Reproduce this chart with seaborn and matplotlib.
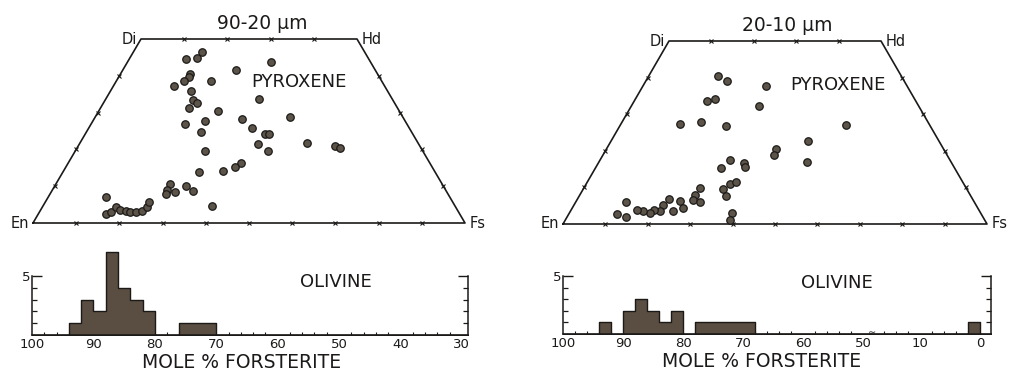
import numpy as np
import pandas as pd
import matplotlib
matplotlib.use("Agg")
import matplotlib.pyplot as plt
import seaborn as sns

# ---------------- data ----------------
# Pyroxene compositions (mole %): Wo (wollastonite) and Fs (ferrosilite)
px1_wo = [46.4, 44.8, 44.5, 43.8, 41.5, 40.5, 39.8, 38.5, 38.5, 37.1, 36.0, 33.7,
          33.5, 32.7, 31.2, 30.3, 28.8, 28.3, 27.8, 26.9, 25.7, 24.1, 24.1, 24.6,
          21.7, 20.9, 20.3, 21.6, 19.7, 19.7, 16.3, 15.3, 14.2, 13.9, 10.5, 8.9,
          8.0, 10.1, 8.3, 8.6, 4.6, 7.1, 2.5, 2.9, 4.4, 3.5, 3.3, 3.1, 2.9, 3.3,
          4.4, 5.7]
px1_fs = [16.0, 15.6, 13.1, 33.3, 26.3, 16.0, 16.3, 15.7, 22.0, 14.0, 18.5, 35.5,
          20.3, 21.6, 20.5, 27.7, 45.1, 34.2, 26.0, 21.8, 37.8, 41.6, 42.6, 26.5,
          52.6, 59.4, 60.9, 41.2, 30.0, 44.6, 39.9, 39.2, 36.8, 31.5, 26.4, 26.5,
          26.7, 30.3, 28.8, 32.8, 39.2, 13.3, 15.7, 16.7, 17.1, 18.5, 19.8, 21.0,
          22.5, 23.5, 24.1, 24.0]

px2_wo = [40.4, 39.2, 37.7, 33.5, 34.1, 32.3, 27.4, 27.8, 26.9, 27.0, 22.6, 20.5,
          18.8, 16.9, 17.5, 15.4, 16.8, 15.6, 9.5, 10.9, 11.4, 7.6, 9.9, 7.9, 6.5,
          6.1, 6.3, 4.3, 3.6, 6.9, 5.2, 3.6, 3.8, 2.9, 3.5, 3.8, 6.1, 2.7, 1.8,
          2.9, 1.1]
px2_fs = [16.4, 19.1, 29.1, 17.1, 18.7, 30.1, 13.9, 18.7, 25.0, 53.3, 46.5, 40.0,
          40.3, 49.2, 30.6, 29.5, 34.4, 35.1, 33.0, 33.9, 35.2, 34.7, 27.4, 27.1,
          27.3, 29.3, 24.5, 26.2, 24.1, 21.6, 21.1, 21.0, 19.6, 19.0, 17.1, 15.6,
          11.9, 11.4, 13.9, 38.5, 38.9]

# Olivine histograms: lower edge of 2 % bins and counts
ol1_lo = [92, 90, 88, 86, 84, 82, 80, 74, 72, 70]
ol1_n = [1, 3, 2, 7, 4, 3, 2, 1, 1, 1]
ol2_lo = [92, 88, 86, 84, 82, 80, 76, 74, 72, 70, 68, 0]
ol2_n = [1, 2, 3, 2, 1, 2, 1, 1, 1, 1, 1, 1]

titles = ["90-20 μm", "20-10 μm"]
ol1_ticks = [100, 90, 80, 70, 60, 50, 40, 30]
ol2_ticks = [100, 90, 80, 70, 60, 50, 10, 0]

# ---------------- style ----------------
sns.set_style("white")
plt.rcParams["font.family"] = ["DejaVu Sans"]
INK = "#1c1a18"
FILL = "#5c5349"
BAR = "#5a4e42"

fig = plt.figure(figsize=(10.10, 3.77), dpi=100)
H = np.sqrt(3) / 2


def ternary(ax, wo, fs, title, pyx, pyy):
    df = pd.DataFrame({"Wo": wo, "Fs": fs})
    df["x"] = df["Fs"] + df["Wo"] / 2
    df["y"] = df["Wo"] * H
    # outline
    ax.plot([0, 100, 75, 25, 0], [0, 0, 50 * H, 50 * H, 0], color=INK, lw=1.2,
            clip_on=False, zorder=1)
    # tick marks (10 % intervals)
    tx = list(range(10, 100, 10)) + [35, 45, 55, 65] + \
        [w / 2 for w in (10, 20, 30, 40)] + [100 - w / 2 for w in (10, 20, 30, 40)]
    ty = [0] * 9 + [50 * H] * 4 + [w * H for w in (10, 20, 30, 40)] * 2
    ax.plot(tx, ty, ls="none", marker="x", ms=3.5, mew=0.8, color=INK,
            clip_on=False)
    sns.scatterplot(data=df, x="x", y="y", ax=ax, s=29, color=FILL,
                    edgecolor=INK, linewidth=0.9, zorder=3, clip_on=False)
    ax.set_xlim(0, 100)
    ax.set_ylim(0, 50 * H)
    ax.axis("off")
    fs_lab = 10.5
    ax.text(-1, 0, "En", ha="right", va="center", fontsize=fs_lab, color=INK)
    ax.text(101, 0, "Fs", ha="left", va="center", fontsize=fs_lab, color=INK)
    ax.text(24, 50 * H, "Di", ha="right", va="center", fontsize=fs_lab, color=INK)
    ax.text(76, 50 * H, "Hd", ha="left", va="center", fontsize=fs_lab, color=INK)
    ax.text(pyx, pyy, "PYROXENE", ha="center", va="center", fontsize=13, color=INK)
    ax.set_title(title, fontsize=13.5, color=INK, pad=7, x=0.53)


ax1 = fig.add_axes([33 / 1010, (377 - 223) / 377, 432 / 1010, 184 / 377])
ternary(ax1, px1_wo, px1_fs, titles[0], 61.6, 33.2)
ax2 = fig.add_axes([563 / 1010, (377 - 224) / 377, 424 / 1010, 183 / 377])
ternary(ax2, px2_wo, px2_fs, titles[1], 64.9, 32.9)


# broken axis for right histogram (50 ... 18 compressed into a short gap)
def fwd(fo):
    fo = np.asarray(fo, dtype=float)
    u = np.where(fo >= 50, (100 - fo) / 10,
                 np.where(fo >= 18, 5.0 + (50 - fo) / 32 * 0.15,
                          5.15 + (18 - fo) / 10))
    return -u


def inv(v):
    u = -np.asarray(v, dtype=float)
    return np.where(u <= 5.0, 100 - 10 * u,
                    np.where(u <= 5.15, 50 - (u - 5.0) / 0.15 * 32,
                             18 - (u - 5.15) * 10))


def hist(ax, lo, n, ticks, minors, xlim, label_x, lab_center, broken=False):
    df = pd.DataFrame({"Fo": np.asarray(lo) + 1.0, "n": n})
    sns.histplot(data=df, x="Fo", weights="n", binwidth=2, binrange=(-2, 102),
                 element="step", fill=True, color=BAR, alpha=1,
                 edgecolor=INK, linewidth=1.0, ax=ax)
    if broken:
        ax.set_xscale("function", functions=(fwd, inv))
    ax.set_xlim(*xlim)
    ax.set_ylim(0, 7.1)
    for s in ("left", "right"):
        ax.spines[s].set_bounds(0, 5)
        ax.spines[s].set_color(INK)
        ax.spines[s].set_linewidth(1.1)
    ax.spines["top"].set_visible(False)
    ax.spines["bottom"].set_color(INK)
    ax.spines["bottom"].set_linewidth(1.1)
    ax.set_xticks(ticks)
    ax.set_xticklabels([str(t) for t in ticks])
    ax.set_xticks(minors, minor=True)
    ax.set_yticks([5])
    ax.set_yticklabels(["5"])
    ax.set_yticks([1, 2, 3, 4], minor=True)
    ax.tick_params(axis="x", which="major", direction="in", length=4, width=0.9,
                   color=INK, labelsize=9.5, labelcolor=INK, pad=2, top=False)
    ax.tick_params(axis="x", which="minor", direction="in", length=2, width=0.8,
                   color=INK, bottom=True, top=False)
    ax.tick_params(axis="y", which="major", direction="in", length=7, width=1.0,
                   color=INK, left=True, right=True, labelsize=9.5,
                   labelcolor=INK, pad=1)
    ax.tick_params(axis="y", which="minor", direction="in", length=3.5,
                   width=0.9, color=INK, left=True, right=True)
    ax.set_xlabel("")
    ax.set_ylabel("")
    ax.grid(False)
    ax.text(label_x[0], label_x[1], "OLIVINE", ha="center", va="center",
            fontsize=13, color=INK)
    ax.text(lab_center, -0.22, "MOLE % FORSTERITE", ha="center", va="top",
            fontsize=13.5, color=INK, transform=ax.transAxes)


ax3 = fig.add_axes([32 / 1010, (377 - 335) / 377, 436 / 1010, 84 / 377])
minors1 = [m for m in range(30, 100, 2) if m % 10]
hist(ax3, ol1_lo, ol1_n, ol1_ticks, minors1, (100, 29), (50.5, 4.5), 0.48)

ax4 = fig.add_axes([563 / 1010, (377 - 334) / 377, 428 / 1010, 81.7 / 377])
minors2 = [m for m in range(52, 100, 2) if m % 10] + [16, 14, 12, 8, 6, 4, 2]
hist(ax4, ol2_lo, ol2_n, ol2_ticks, minors2, (100, -1.8), (54.3, 4.4), 0.465,
     broken=True)
ax4.text(18, 0.12, "≈", ha="center", va="center", fontsize=7, color=INK)

fig.savefig("out.png", dpi=100, facecolor="white")
